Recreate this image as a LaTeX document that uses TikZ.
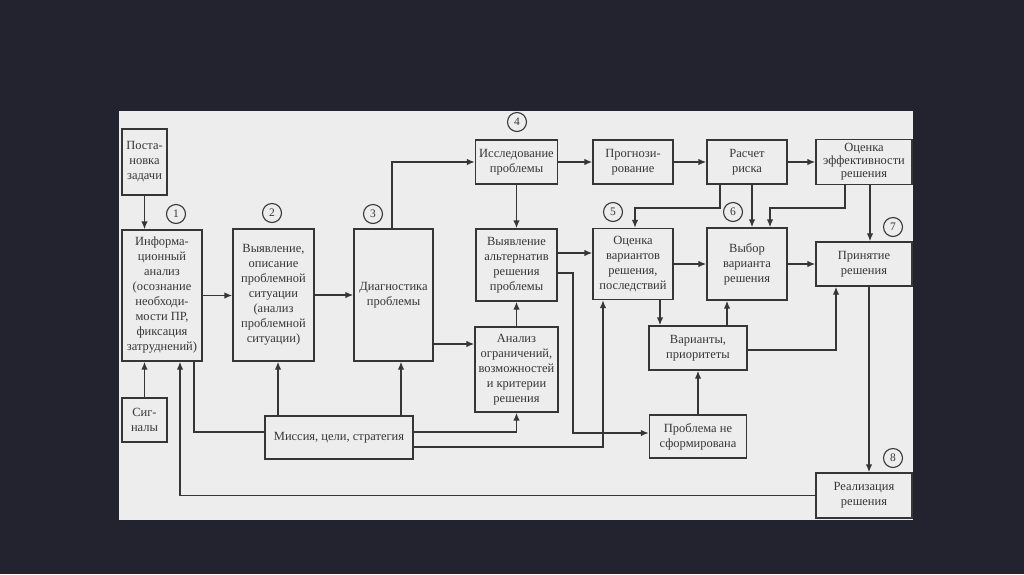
\documentclass[tikz,border=0pt]{standalone}
\usepackage{fontspec}
\setmainfont{Liberation Serif}
\usetikzlibrary{arrows.meta}
\definecolor{fon}{HTML}{22232E}
\definecolor{list}{HTML}{EDEDED}
\definecolor{liniya}{HTML}{363636}
\tikzset{
  blok/.style={draw=liniya, line width=1.4pt, text=liniya, align=center, inner sep=1pt, font=\fontsize{12.5}{15}\selectfont},
  num/.style={draw=liniya, circle, line width=1.1pt, minimum size=19pt, inner sep=0pt, text=liniya, font=\fontsize{11.5}{11.5}\selectfont},
  arr/.style={draw=liniya, line width=1.4pt, -{Latex[length=8pt,width=6.5pt]}},
  lin/.style={draw=liniya, line width=1.4pt},
}
\begin{document}
\begin{tikzpicture}[x=1pt,y=-1pt]
\fill[fon] (0,0) rectangle (1024,574);
\fill[list] (119,111) rectangle (913,520);
\useasboundingbox (0,0) rectangle (1024,574);
% left column
\node[blok, minimum width=45, minimum height=66] (zad) at (144.5,162) {Поста-\\новка\\задачи};
\node[blok, minimum width=80, minimum height=131] (info) at (162,295.5) {Информа-\\ционный\\анализ\\(осознание\\необходи-\\мости ПР,\\фиксация\\затруднений)};
\node[blok, minimum width=45, minimum height=44] (sign) at (144.5,420) {Сиг-\\налы};
\node[blok, minimum width=81, minimum height=132] (opis) at (273.5,295) {Выявление,\\описание\\проблемной\\ситуации\\(анализ\\проблемной\\ситуации)};
\node[blok, minimum width=79, minimum height=132] (diag) at (393.5,295) {Диагностика\\проблемы};
\node[blok, minimum width=148, minimum height=43] (missia) at (339,437.5) {Миссия, цели, стратегия};
% middle
\node[blok, minimum width=82, minimum height=44] (issl) at (516.5,162) {Исследование\\проблемы};
\node[blok, minimum width=81, minimum height=72] (alt) at (516.5,265) {Выявление\\альтернатив\\решения\\проблемы};
\node[blok, minimum width=83, minimum height=85] (analiz) at (516.5,369.5) {Анализ\\ограничений,\\возможностей\\и критерии\\решения};
\node[blok, minimum width=80, minimum height=44] (prog) at (633,162) {Прогнози-\\рование};
\node[blok, minimum width=80, minimum height=71] (ocenka) at (633,264) {Оценка\\вариантов\\решения,\\последствий};
\node[blok, minimum width=80, minimum height=44] (risk) at (747,162) {Расчет\\риска};
\node[blok, minimum width=80, minimum height=72] (vybor) at (747,264) {Выбор\\варианта\\решения};
\node[blok, minimum width=98, minimum height=44] (var) at (698,348) {Варианты,\\приоритеты};
\node[blok, minimum width=97, minimum height=43] (neform) at (698,436.5) {Проблема не\\сформирована};
% right column
\node[blok, minimum width=96, minimum height=45, font=\fontsize{12.5}{13}\selectfont] (effekt) at (864,162) {Оценка\\эффективности\\решения};
\node[blok, minimum width=96, minimum height=44] (prin) at (864,264) {Принятие\\решения};
\node[blok, minimum width=96, minimum height=45] (real) at (864,495.5) {Реализация\\решения};
% numbers
\node[num] (n1) at (176,214) {1};
\node[num] (n2) at (272,213) {2};
\node[num] (n3) at (373,214) {3};
\node[num] (n4) at (517,122) {4};
\node[num] (n5) at (613,212) {5};
\node[num] (n6) at (733,212) {6};
\node[num] (n7) at (893,227) {7};
\node[num] (n8) at (893,458) {8};
% bend points
\coordinate (k1) at (573,433);
\coordinate (r1) at (720,208);
\coordinate (e1) at (845,208);
% connectors
\draw[arr] (zad.south) -- (zad.south |- info.north);
\draw[arr] (sign.north) -- (sign.north |- info.south);
\draw[arr] (info.east) -- (info.east -| opis.west);
\draw[arr] (opis.east) -- (opis.east -| diag.west);
\draw[arr] ([xshift=-61]missia.north) -- ([xshift=4.5]opis.south);
\draw[arr] ([xshift=62]missia.north) -- ([xshift=7.5]diag.south);
\draw[lin] ([xshift=32]info.south) |- ([yshift=5.5]missia.west);
\draw[arr] ([xshift=-1.5]diag.north) |- (issl.west);
\draw[arr] (issl.south) -- (alt.north);
\draw[arr] (issl) -- (prog);
\draw[arr] (prog) -- (risk);
\draw[arr] (risk) -- (effekt);
\draw[arr] ([yshift=-49]diag.east) -- ([yshift=25.5]analiz.west);
\draw[arr] (analiz.north) -- (alt.south);
\draw[arr] ([yshift=5.5]missia.east) -| (analiz.south);
\draw[arr] ([yshift=-9.5]missia.east) -| ([xshift=-30]ocenka.south);
\draw[arr] ([yshift=12]alt.east) -- ([yshift=11]ocenka.west);
\draw[arr] ([yshift=-8]alt.east) -| (k1) -- ([yshift=3.5]neform.west);
\draw[arr] (risk.south -| r1) -- (r1) -| ([xshift=2]ocenka.north);
\draw[arr] ([xshift=5]risk.south) -- ([xshift=5]vybor.north);
\draw[arr] (effekt.south -| e1) -- (e1) -| ([xshift=23]vybor.north);
\draw[arr] ([xshift=6]effekt.south) -- ([xshift=6]prin.north);
\draw[arr] (ocenka) -- (vybor);
\draw[arr] (vybor) -- (prin);
\draw[arr] ([xshift=27]ocenka.south) -- ([xshift=-38]var.north);
\draw[arr] ([xshift=29]var.north) -- ([xshift=-20]vybor.south);
\draw[arr] ([yshift=-2]var.east) -| ([xshift=-28]prin.south);
\draw[arr] (neform.north) -- (var.south);
\draw[arr] ([xshift=5]prin.south) -- ([xshift=5]real.north);
\draw[arr] (real.west) -| ([xshift=18]info.south);
\end{tikzpicture}
\end{document}
